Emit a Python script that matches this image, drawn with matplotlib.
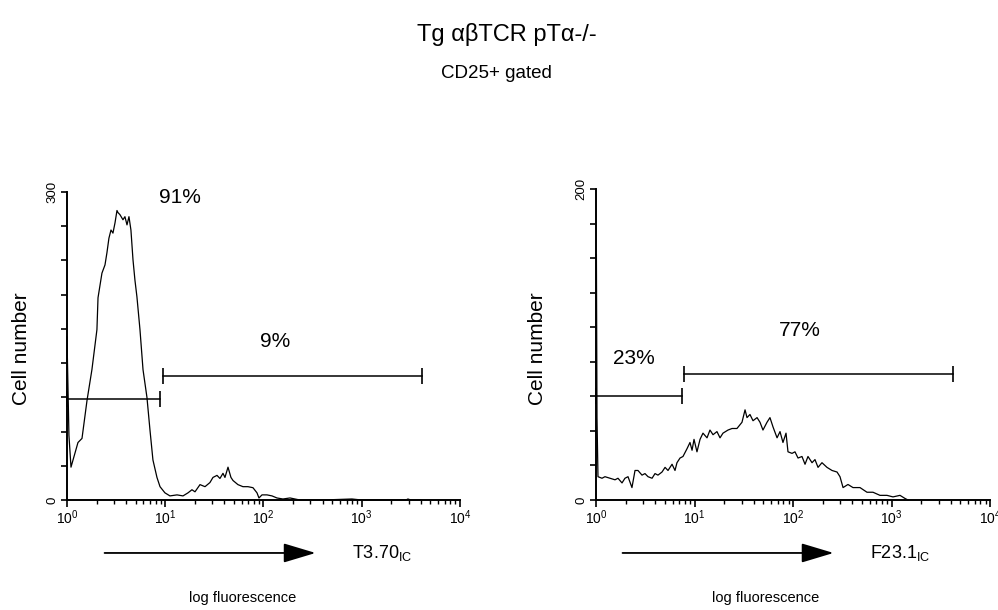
import matplotlib
matplotlib.use("Agg")
import matplotlib.pyplot as plt
import numpy as np
from matplotlib.ticker import FixedLocator, LogLocator, NullFormatter

plt.rcParams['font.family'] = ['Liberation Sans', 'DejaVu Sans']
plt.rcParams['mathtext.fontset'] = 'custom'
plt.rcParams['mathtext.rm'] = 'Liberation Sans'

# T3.70 IC histogram (log10 fluorescence, cell number)
left_log = [0.0, 0.02, 0.041, 0.112, 0.153, 0.204, 0.254, 0.305, 0.316, 0.356,
            0.387, 0.407, 0.427, 0.448, 0.468, 0.489, 0.509, 0.519, 0.539, 0.570,
            0.590, 0.611, 0.631, 0.651, 0.672, 0.692, 0.712, 0.743, 0.774, 0.814,
            0.845, 0.875, 0.916, 0.947, 0.997, 1.048, 1.120, 1.181, 1.232, 1.272,
            1.303, 1.354, 1.405, 1.455, 1.486, 1.527, 1.557, 1.588, 1.608, 1.639,
            1.669, 1.690, 1.740, 1.791, 1.842, 1.893, 1.934, 1.954, 1.985, 2.036,
            2.087, 2.137, 2.198, 2.270, 2.371, 2.6, 2.9, 3.0, 3.45, 3.47, 3.5, 3.6]
left_counts = [159, 63, 32, 56, 60, 97, 127, 166, 197, 221,
               229, 241, 255, 263, 260, 270, 282, 280, 278, 273,
               276, 268, 276, 263, 234, 214, 198, 166, 127, 100,
               68, 39, 22, 13, 7, 4, 5, 4, 7, 10,
               8, 15, 13, 17, 22, 24, 21, 26, 22, 32,
               22, 19, 15, 13, 13, 12, 7, 2, 5, 5,
               4, 2, 1, 2, 0, 0, 1, 0, 0, 1, 0, 0]

# F23.1 IC histogram
right_log = [0.0, 0.004, 0.010, 0.020, 0.061, 0.091, 0.142, 0.193, 0.223, 0.264,
             0.294, 0.325, 0.365, 0.396, 0.426, 0.467, 0.497, 0.528, 0.569, 0.599,
             0.629, 0.670, 0.701, 0.731, 0.772, 0.802, 0.822, 0.853, 0.883, 0.924,
             0.954, 0.975, 0.995, 1.025, 1.056, 1.086, 1.127, 1.157, 1.188, 1.228,
             1.259, 1.289, 1.340, 1.381, 1.431, 1.482, 1.513, 1.533, 1.563, 1.594,
             1.635, 1.665, 1.695, 1.736, 1.766, 1.797, 1.838, 1.868, 1.898, 1.929,
             1.949, 1.990, 2.020, 2.051, 2.091, 2.122, 2.152, 2.193, 2.223, 2.254,
             2.294, 2.345, 2.396, 2.447, 2.477, 2.508, 2.558, 2.609, 2.680, 2.751,
             2.812, 2.883, 2.954, 3.015, 3.086, 3.137, 3.168]
right_counts = [158, 158, 53, 15, 14, 15, 14, 13, 14, 11,
                14, 15, 8, 19, 19, 16, 17, 15, 14, 17,
                16, 18, 21, 19, 23, 19, 24, 27, 28, 33,
                37, 32, 39, 31, 39, 43, 40, 45, 42, 44,
                40, 43, 45, 46, 46, 50, 58, 53, 55, 51,
                53, 50, 45, 50, 53, 47, 40, 44, 37, 43,
                31, 30, 31, 27, 28, 23, 28, 24, 26, 21,
                24, 21, 19, 18, 15, 8, 10, 8, 8, 5,
                5, 3, 3, 2, 3, 1, 0]

panels = [
    dict(log=left_log, counts=left_counts, ymax=300, marker="T3.70",
         gates=[(1.0, 8.85, 98), (9.5, 4100, 121)],
         labels=[("91%", 14.1, 295), ("9%", 131, 154)],
         pos=[0.0671, 0.1803, 0.3938, 0.5049], ylab_x=0.022, arrow=(0.102, 0.319), name_x=0.353, lf_x=0.243),
    dict(log=right_log, counts=right_counts, ymax=200, marker="F23.1",
         gates=[(1.0, 7.46, 67), (7.82, 4210, 81)],
         labels=[("23%", 2.43, 91), ("77%", 118, 109)],
         pos=[0.5972, 0.1803, 0.3948, 0.5098], ylab_x=0.539, arrow=(0.621, 0.838), name_x=0.872, lf_x=0.767),
]

fig = plt.figure(figsize=(9.98, 6.10), dpi=100)

for p in panels:
    ax = fig.add_axes(p["pos"])
    x = 10 ** np.asarray(p["log"])
    ax.plot(x, p["counts"], color="black", lw=0.9, clip_on=False)
    ax.set_xscale("log")
    ax.set_xlim(1, 1e4)
    ax.set_ylim(0, p["ymax"])
    for side in ("top", "right"):
        ax.spines[side].set_visible(False)
    for side in ("left", "bottom"):
        ax.spines[side].set_linewidth(1.4)

    ax.xaxis.set_major_locator(FixedLocator([1, 10, 100, 1000, 10000]))
    ax.xaxis.set_minor_locator(LogLocator(base=10, subs=np.arange(2, 10)))
    ax.xaxis.set_minor_formatter(NullFormatter())
    ax.set_xticklabels([r"$\mathregular{10^{%d}}$" % k for k in range(5)], fontsize=10)
    ax.tick_params(axis="x", which="major", length=5, width=1.2, pad=1)
    ax.tick_params(axis="x", which="minor", length=3, width=1.0)

    yt = np.linspace(0, p["ymax"], 10)
    ax.set_yticks(yt)
    ax.set_yticklabels(["0"] + [""] * 8 + [str(p["ymax"])], rotation=90, va="center", fontsize=9.5)
    ax.tick_params(axis="y", length=4, width=1.2, pad=2)

    for x0, x1, y in p["gates"]:
        ax.plot([x0, x1], [y, y], color="black", lw=1.1, marker="|", ms=12, mew=1.2, clip_on=False)
    for txt, tx, ty in p["labels"]:
        ax.text(tx, ty, txt, fontsize=15, ha="center", va="center")

    fig.text(p["ylab_x"], 0.429, "Cell number", rotation=90, fontsize=15, ha="center", va="center")
    a0, a1 = p["arrow"]
    fig.add_artist(matplotlib.patches.FancyArrowPatch(
        (a0, 0.0935), (a1, 0.0935), transform=fig.transFigure,
        arrowstyle="-|>,head_length=1.0,head_width=0.3", mutation_scale=20,
        color="black", lw=1.3))
    fig.text(p["name_x"], 0.0935, p["marker"] + r"$_{\mathregular{IC}}$", fontsize=13, ha="left", va="center")
    fig.text(p["lf_x"], 0.02, "log fluorescence", fontsize=10.5, ha="center", va="center")

fig.text(0.508, 0.944, "Tg αβTCR pTα-/-", fontsize=17, ha="center", va="center")
fig.text(0.497, 0.880, "CD25+ gated", fontsize=13.5, ha="center", va="center")

fig.savefig("out.png", dpi=100)
